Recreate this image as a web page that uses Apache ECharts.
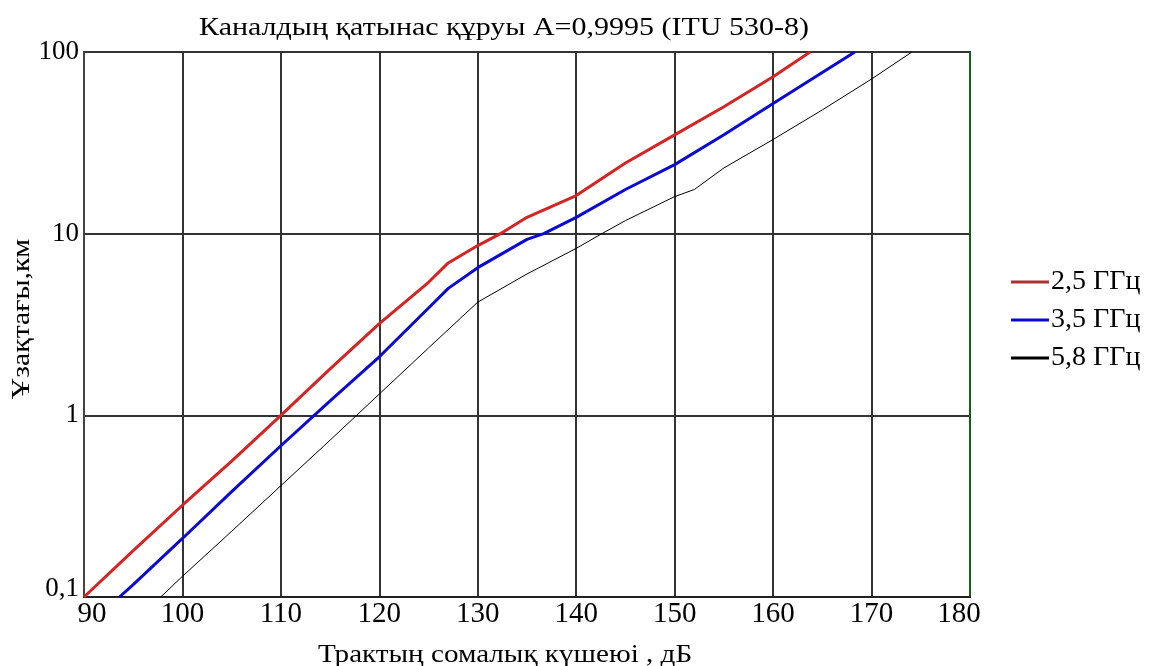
<!DOCTYPE html>
<html>
<head>
<meta charset="utf-8">
<script src="https://cdn.jsdelivr.net/npm/echarts@6/dist/echarts.min.js"></script>
<style>
html,body{margin:0;padding:0;background:#fff;}
#main{width:1154px;height:666px;}
</style>
</head>
<body>
<div id="main"></div>
<script>
// ---- data ----
const titleText = 'Каналдың қатынас құруы A=0,9995 (ITU 530-8)';
const xAxisTitle = 'Трактың сомалық күшеюі , дБ';
const yAxisTitle = 'Ұзақтағы,км';
const seriesNames = ['2,5 ГГц', '3,5 ГГц', '5,8 ГГц'];

const redX = [90, 95, 100, 105, 110, 115, 120, 125, 127, 130, 132.3, 135, 140, 145, 150, 155, 160, 163.75];
const redY = [0.1, 0.18, 0.32, 0.56, 1.0, 1.8, 3.2, 5.4, 6.9, 8.6, 10, 12.3, 16.2, 24.5, 35, 50, 73, 100];

const blueX = [93.6, 95, 100, 105, 110, 115, 120, 125, 127, 130, 135, 136.7, 140, 145, 150, 155, 160, 168.3];
const blueY = [0.1, 0.117, 0.21, 0.38, 0.68, 1.2, 2.1, 3.9, 5.0, 6.5, 9.3, 10, 12.3, 17.5, 24, 35, 52, 100];

const blackX = [97.8, 100, 105, 110, 115, 120, 125, 130, 135, 140, 142.6, 145, 150, 152, 155, 160, 165, 170, 174.1];
const blackY = [0.1, 0.13, 0.23, 0.41, 0.73, 1.31, 2.35, 4.2, 6.0, 8.3, 10, 11.8, 16, 17.5, 23, 33, 48, 71, 100];

const xMin = 90, xMax = 180, xStep = 10;
const yMin = 0.1, yMax = 100;

function pairs(xs, ys) { return xs.map((x, i) => [x, ys[i]]); }

const FONT = '"Liberation Serif", "DejaVu Serif", serif';
const chart = echarts.init(document.getElementById('main'));

chart.setOption({
  backgroundColor: '#ffffff',
  animation: false,
  grid: { left: 84, right: 184, top: 52, bottom: 69, show: true, borderColor: '#333', borderWidth: 2 },
  graphic: [
    { type: 'text', x: 504, y: 28, scaleX: 1.2, style: { text: titleText, font: '25px ' + FONT, fill: '#000', textAlign: 'center', textVerticalAlign: 'middle' } },
    { type: 'text', x: 505, y: 655, scaleX: 1.12, style: { text: xAxisTitle, font: '26px ' + FONT, fill: '#000', textAlign: 'center', textVerticalAlign: 'middle' } },
    { type: 'text', x: 22, y: 319, rotation: Math.PI / 2, scaleX: 1.19, style: { text: yAxisTitle, font: '25px ' + FONT, fill: '#000', textAlign: 'center', textVerticalAlign: 'middle' } }
  ],
  legend: {
    orient: 'vertical', left: 1006, top: 263, itemWidth: 38, itemHeight: 3, itemGap: 10,
    icon: 'rect',
    textStyle: { fontFamily: FONT, fontSize: 28, color: '#000', padding: [0, 0, 0, -3] },
    data: seriesNames
  },
  xAxis: {
    type: 'value', min: xMin, max: xMax, interval: xStep,
    axisLine: { lineStyle: { color: '#222', width: 2 } },
    axisTick: { show: false },
    axisLabel: { fontFamily: FONT, fontSize: 29, color: '#000', margin: 3,
      formatter: v => v === xMin ? '{l|' + v + '}' : (v === xMax ? '{r|' + v + '}' : '{n|' + v + '}'),
      rich: {
        n: { fontFamily: FONT, fontSize: 29, color: '#000' },
        l: { fontFamily: FONT, fontSize: 29, color: '#000', padding: [0, 0, 0, 16] },
        r: { fontFamily: FONT, fontSize: 29, color: '#000', padding: [0, 22, 0, 0] }
      }
    },
    splitLine: { show: true, lineStyle: { color: '#333', width: 2 } }
  },
  yAxis: [{
    type: 'log', logBase: 10, min: yMin, max: yMax,
    axisLine: { show: true, lineStyle: { color: '#444', width: 2 } },
    axisTick: { show: false },
    axisLabel: { fontFamily: FONT, fontSize: 27, color: '#000', margin: 5,
      formatter: v => v === yMin ? '{b|' + String(v).replace('.', ',') + '}' : '{n|' + String(v).replace('.', ',') + '}',
      rich: {
        n: { fontFamily: FONT, fontSize: 27, color: '#000' },
        b: { fontFamily: FONT, fontSize: 27, color: '#000', padding: [0, 0, 16, 0] }
      }
    },
    splitLine: { show: true, lineStyle: { color: '#333', width: 2 } }
  }, {
    type: 'log', logBase: 10, min: yMin, max: yMax, position: 'right',
    axisLine: { show: true, lineStyle: { color: '#1a5c1a', width: 2 } },
    axisTick: { show: false }, axisLabel: { show: false }, splitLine: { show: false }
  }],
  series: [
    { name: seriesNames[0], type: 'line', symbol: 'none', data: pairs(redX, redY),
      lineStyle: { color: '#d42424', width: 3 }, itemStyle: { color: '#a83232' } },
    { name: seriesNames[1], type: 'line', symbol: 'none', data: pairs(blueX, blueY),
      lineStyle: { color: '#0a0ad2', width: 3 }, itemStyle: { color: '#0a0ad2' } },
    { name: seriesNames[2], type: 'line', symbol: 'none', data: pairs(blackX, blackY),
      lineStyle: { color: '#000', width: 1 }, itemStyle: { color: '#000' } }
  ]
});
</script>
</body>
</html>
